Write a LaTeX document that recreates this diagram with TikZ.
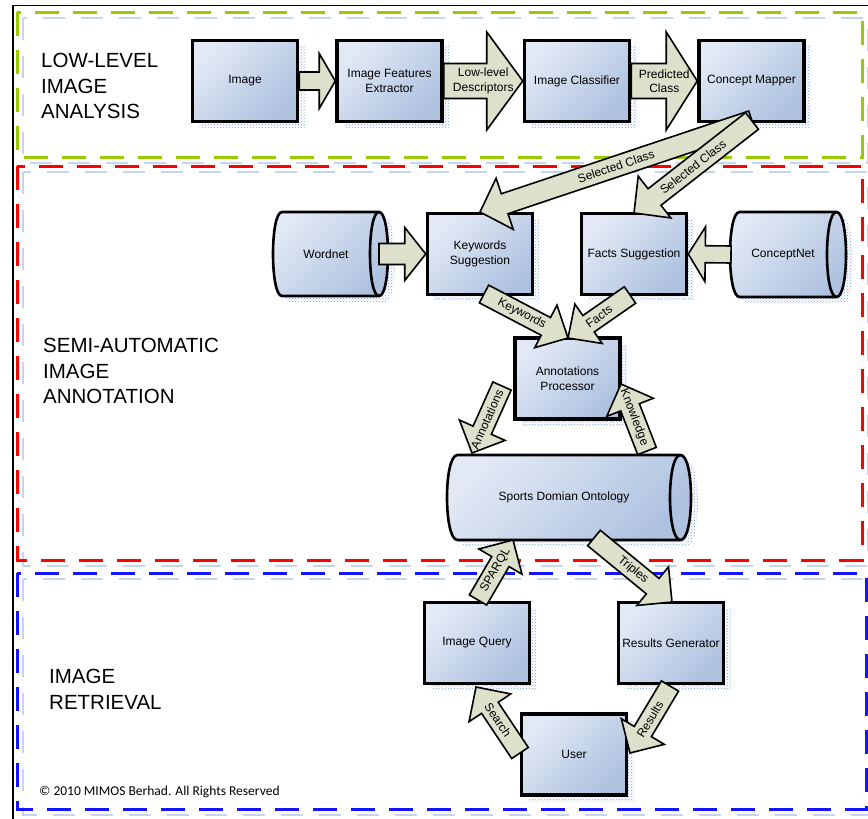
\documentclass[tikz,border=0pt]{standalone}
\usepackage{fontspec}
\setmainfont{Liberation Sans}
\newfontfamily\copyfont{Carlito}
\usetikzlibrary{calc,patterns}

\definecolor{grn}{RGB}{153,204,0}
\definecolor{rd}{RGB}{255,0,0}
\definecolor{bl}{RGB}{20,20,255}
\definecolor{hatch}{RGB}{130,160,215}
\definecolor{boxtop}{RGB}{226,233,245}
\definecolor{boxbot}{RGB}{174,194,224}
\definecolor{arrfill}{RGB}{221,224,203}

% block arrow: [label pos]{start}{tip}{shaft half width}{head half width}{head length}{label}
\newcommand\barrow[7][0.5]{%
  \coordinate (ba-b) at ($(#3)!#6pt!(#2)$);
  \draw[blockarrow] ($(#2)!#4pt!90:(#3)$) -- ($(ba-b)!#4pt!90:(#3)$) -- ($(ba-b)!#5pt!90:(#3)$)
    -- (#3) -- ($(ba-b)!#5pt!-90:(#3)$) -- ($(ba-b)!#4pt!-90:(#3)$) -- ($(#2)!#4pt!-90:(#3)$) -- cycle;
  \path (#2) -- (#3) node[pos=#1, sloped, arrlabel] {#7};
}

% horizontal cylinder outline: {x left}{y top}{x right}{y bottom}{end radius}
\newcommand\cylpath[5]{({#1+#5},#2) -- ({#3-#5},#2)
  .. controls ({#3+#5/3},#2) and ({#3+#5/3},#4) .. ({#3-#5},#4)
  -- ({#1+#5},#4) .. controls ({#1-#5/3},#4) and ({#1-#5/3},#2) .. cycle}
\newcommand\cyl[5]{%
  \path[pattern=crosshatch dots, pattern color=hatch, shift={(7,6)}] \cylpath{#1}{#2}{#3}{#4}{#5};
  \draw[cylbody] \cylpath{#1}{#2}{#3}{#4}{#5};
  \draw[line width=2.6pt] ({#3-#5},#2) .. controls ({#3-#5-4*#5/3},#2) and ({#3-#5-4*#5/3},#4) .. ({#3-#5},#4);
}

\tikzset{
  proc/.style={draw=black, line width=3.5pt, top color=boxtop, bottom color=boxbot,
    shading angle=45, minimum width=105pt, minimum height=81pt, inner sep=2pt,
    align=center, font=\fontsize{12}{15}\selectfont,
    preaction={draw=none, pattern=crosshatch dots, pattern color=hatch,
      transform canvas={shift={(7pt,-6pt)}}}},
  cylbody/.style={draw=black, line width=2.6pt, top color=boxtop, bottom color=boxbot, shading angle=45},
  cyltext/.style={font=\fontsize{12}{15}\selectfont, inner sep=1pt},
  blockarrow/.style={draw=black, line width=1.6pt, fill=arrfill, line join=miter},
  arrlabel/.style={font=\fontsize{12}{14.5}\selectfont, align=center, inner sep=0pt},
  sect/.style={line width=3pt, dash pattern=on 24pt off 14pt},
  sectshadow/.style={line width=1.5pt, draw=hatch!45, dash pattern=on 22pt off 16pt},
  seclabel/.style={anchor=north west, inner sep=0pt, align=left, font=\fontsize{20.5}{25.5}\selectfont}
}

\begin{document}
\begin{tikzpicture}[x=1pt,y=-1pt]
\useasboundingbox (0,0) rectangle (868,819);
\fill[white] (0,0) rectangle (868,819);

% outer frame
\draw[line width=1.6pt] (12,5.5) -- (868,5.5);
\draw[line width=1.6pt] (13,5) -- (13,819);

% section borders and their faint shadows
\draw[sectshadow] (23,18) rectangle (868,163);
\draw[sectshadow] (23,172) rectangle (868,566);
\draw[sectshadow] (23,579) rectangle (872,815);
\draw[sect, draw=grn] (17,12) rectangle (862,157);
\draw[sect, draw=rd] (17,166) rectangle (862,560);
\draw[sect, draw=bl] (17,573) rectangle (866,809);

% section titles
\node[seclabel] (t1) at (41,53) {LOW-LEVEL\\IMAGE\\ANALYSIS};
\node[seclabel] (t2) at (43,338) {SEMI-AUTOMATIC\\IMAGE\\ANNOTATION};
\node[seclabel] (t3) at (49,669) {IMAGE\\RETRIEVAL};
\node[anchor=north west, inner sep=0pt, font=\copyfont\fontsize{13.5}{16}\selectfont] (copy)
  at (39,786) {© 2010 MIMOS Berhad. All Rights Reserved};

% low-level analysis chain
\node[proc] (img) at (245,81) {Image};
\node[proc] (ife) at (389.5,81) {Image Features\\Extractor};
\node[proc] (icl) at (577,81) {Image Classifier};
\node[proc] (cm)  at (751.5,81) {Concept Mapper};

% annotation stage
\cyl{273}{212}{388}{296}{9}
\node[cyltext] (wn) at (326,254) {Wordnet};
\node[proc] (ks) at (480,254) {Keywords\\Suggestion};
\node[proc] (fs) at (634,254) {Facts Suggestion};
\cyl{730}{212}{846}{297}{9.5}
\node[cyltext] (cn) at (783,254.5) {ConceptNet};
\node[proc] (ap) at (567.5,378.5) {Annotations\\Processor};
\cyl{447}{455}{691}{540}{10.5}
\node[cyltext] (ont) at (564,497.5) {Sports Domian Ontology};

% retrieval stage
\node[proc] (iq) at (477,643) {Image Query};
\node[proc] (rg) at (671,643) {Results Generator};
\node[proc] (us) at (574,754.5) {User};

% connector end points
\coordinate (wn-out) at (379,254);
\coordinate (cn-out) at (731,254.5);
\coordinate (cm-out) at (752,121);
\coordinate (ks-in) at (480,212);
\coordinate (fs-in) at (634,213);
\coordinate (ks-out) at (484,294);
\coordinate (fs-out) at (630,295);
\coordinate (ap-in) at (568,338);
\coordinate (ap-out) at (502,386);
\coordinate (ont-in) at (472,453);
\coordinate (ont-out) at (647,451);
\coordinate (ap-back) at (621,384);
\coordinate (iq-out) at (478,600);
\coordinate (ont-q) at (513,540);
\coordinate (ont-r) at (594,538);
\coordinate (rg-in) at (672,602);
\coordinate (us-out) at (520,753);
\coordinate (iq-in) at (476,687);
\coordinate (rg-out) at (670,686);
\coordinate (us-in) at (630,753);

% connectors
\barrow{img.east}{ife.west}{9}{27.5}{16}{}
\barrow{ife.east}{icl.west}{17.5}{49}{36}{Low-level\\Descriptors}
\barrow{icl.east}{cm.west}{17.5}{49}{31}{Predicted\\Class}
\barrow{cm-out}{ks-in}{10.5}{27}{26}{Selected Class}
\barrow{cm-out}{fs-in}{10.5}{26.5}{26}{Selected Class}
\barrow{wn-out}{ks.west}{10.5}{26.5}{21}{}
\barrow{cn-out}{fs.east}{8.5}{27.5}{17}{}
\barrow[0.45]{ks-out}{ap-in}{10}{24}{25}{Keywords}
\barrow{fs-out}{ap-in}{10}{24}{25}{Facts}
\barrow{ap-out}{ont-in}{10}{25}{25}{Annotations}
\barrow{ont-out}{ap-back}{10}{25}{25}{Knowledge}
\barrow{iq-out}{ont-q}{10}{25}{25}{SPARQL}
\barrow{ont-r}{rg-in}{10}{25}{25}{Triples}
\barrow{us-out}{iq-in}{10}{25}{25}{Search}
\barrow{rg-out}{us-in}{10}{25}{25}{Results}
\end{tikzpicture}
\end{document}
